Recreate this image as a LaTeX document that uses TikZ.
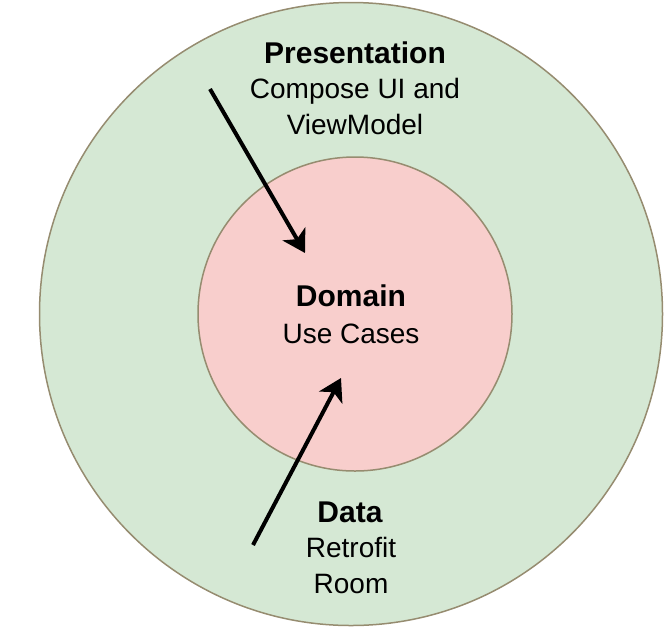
\documentclass[tikz,border=0pt]{standalone}
\usepackage{fontspec}
\setmainfont{Liberation Sans}
\usetikzlibrary{arrows.meta}
\definecolor{outerfill}{HTML}{D5E8D4}
\definecolor{innerfill}{HTML}{F8CECC}
\definecolor{ringline}{RGB}{150,140,112}
\tikzset{
  layer/.style={draw=ringline, line width=1.5pt, circle, inner sep=0pt},
  title/.style={font=\fontsize{30}{36}\selectfont\bfseries, anchor=base},
  note/.style={font=\fontsize{28}{35.5}\selectfont, anchor=base, align=center},
  dep/.style={line width=4pt, -{Stealth[length=22pt,width=26pt,inset=6pt]}}
}
\begin{document}
\begin{tikzpicture}[x=1pt,y=-1pt]
\useasboundingbox (0,0) rectangle (666,633);
\node[layer, fill=outerfill, minimum size=623pt] (outer) at (351,314) {};
\node[layer, fill=innerfill, minimum size=314pt] (inner) at (355,314) {};
% base of a two-line note sits on its last line
\node[title] (pres) at (355,63) {Presentation};
\node[note] (presnote) at (355,134) {Compose UI and\\ViewModel};
\node[title] (dom) at (351,306) {Domain};
\node[note] (domnote) at (351,343) {Use Cases};
\node[title] (dat) at (350,522) {Data};
\node[note] (datnote) at (351,593) {Retrofit\\Room};

% dependencies point inwards
\coordinate (prestail) at (210,89);
\coordinate (preshead) at (305,253);
\coordinate (dattail) at (253,545);
\coordinate (dathead) at (341,378);
\draw[dep] (prestail) -- (preshead);
\draw[dep] (dattail) -- (dathead);
\end{tikzpicture}
\end{document}
